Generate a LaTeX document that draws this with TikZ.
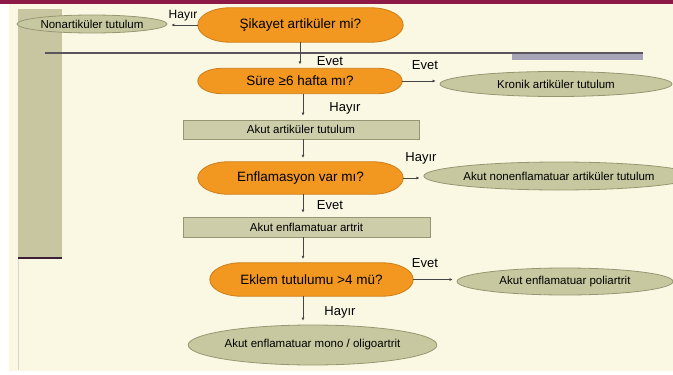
\documentclass[tikz,border=0pt]{standalone}
\usepackage{fontspec}
\setmainfont{Liberation Sans}
\usetikzlibrary{arrows.meta,shapes.geometric,calc}
\pgfdeclarelayer{bottom}
\pgfdeclarelayer{shapes}
\pgfsetlayers{bottom,shapes,main}
\definecolor{bgcream}{RGB}{250,248,226}
\definecolor{maroon}{RGB}{140,25,70}
\definecolor{tanbar}{RGB}{200,198,160}
\definecolor{orangefill}{RGB}{242,152,32}
\definecolor{orangeline}{RGB}{205,125,25}
\definecolor{olivefill}{RGB}{200,200,160}
\definecolor{oliveline}{RGB}{150,150,115}
\definecolor{boxfill}{RGB}{205,205,170}
\definecolor{lavender}{RGB}{168,164,184}
\definecolor{lineg}{RGB}{70,70,70}
\tikzset{
  decision/.style={rectangle, inner sep=0pt, font=\fontsize{13.5}{15}\selectfont},
  capsule/.style={draw=orangeline, fill=orangefill, line width=0.8pt},
  outcome/.style={ellipse, draw=oliveline, fill=olivefill, line width=0.8pt,
    inner sep=0pt, font=\fontsize{11.5}{13}\selectfont},
  stepbox/.style={rectangle, draw=oliveline, fill=boxfill, line width=0.8pt,
    inner sep=0pt, font=\fontsize{11.5}{13}\selectfont},
  lbl/.style={inner sep=0pt, font=\fontsize{13}{15}\selectfont},
  arr/.style={draw=lineg, line width=0.6pt, -{Latex[length=3pt,width=3pt]}, shorten >=4pt}
}
% #1 node name, #2 horizontal radius of the rounded ends (pt)
\newcommand\capsuleshape[2]{%
  \begin{pgfonlayer}{shapes}
  \path[capsule] let \p1=(#1.north west), \p2=(#1.south east), \n1={(\y1-\y2)/2} in
    (\x1+#2pt,\y1) -- (\x2-#2pt,\y1)
    arc[start angle=90, end angle=-90, x radius=#2pt, y radius=\n1]
    -- (\x1+#2pt,\y2)
    arc[start angle=270, end angle=90, x radius=#2pt, y radius=\n1] -- cycle;
  \end{pgfonlayer}}
\begin{document}
\begin{tikzpicture}[x=1pt,y=-1pt]
\useasboundingbox (0,0) rectangle (673,375);
\begin{pgfonlayer}{bottom}
\fill[white] (0,0) rectangle (673,375);
\fill[bgcream] (9,4) rectangle (673,371);
\fill[maroon] (0,0) rectangle (673,4);
% left bar
\fill[tanbar] (18,9) rectangle (62,258);
\draw[draw={rgb,255:red,60;green,30;blue,55}, line width=1.5pt] (18,258) -- (62,258);
\draw[draw={rgb,255:red,215;green,215;blue,210}, line width=0.5pt] (18,259) -- (18,370);
% top rule and grey block
\fill[lavender] (512,53) rectangle (643,60);
\draw[draw={rgb,255:red,90;green,85;blue,95}, line width=1.2pt] (45,53) -- (643,53);
\end{pgfonlayer}

% nodes
\node[decision, minimum width=205pt, minimum height=34pt] (sik) at (300.5,25) {Şikayet artiküler mi?};
\capsuleshape{sik}{32}
\node[outcome, minimum width=150pt, minimum height=18pt] (non) at (92,24) {Nonartiküler tutulum};
\node[decision, minimum width=204pt, minimum height=25pt] (sure) at (300,81) {Süre ≥6 hafta mı?};
\capsuleshape{sure}{24}
\node[outcome, minimum width=232pt, minimum height=25pt] (kron) at (556,84) {Kronik artiküler tutulum};
\node[stepbox, minimum width=236pt, minimum height=19pt] (box1) at (301,129.5) {Akut artiküler tutulum};
\node[decision, minimum width=205pt, minimum height=32pt] (enf) at (300.5,178) {Enflamasyon var mı?};
\capsuleshape{enf}{30}
\node[outcome, minimum width=228pt, minimum height=28pt] (nonenf) at (559,176) {Akut nonenflamatuar artiküler tutulum};
\node[stepbox, minimum width=247pt, minimum height=20pt] (box2) at (306.5,227) {Akut enflamatuar artrit};
\node[decision, minimum width=203pt, minimum height=33pt] (ekl) at (311.5,279.5) {Eklem tutulumu >4 mü?};
\capsuleshape{ekl}{31}
\node[outcome, minimum width=216pt, minimum height=27pt] (poli) at (565,281.5) {Akut enflamatuar poliartrit};
\node[outcome, minimum width=225pt, minimum height=40pt] (mono) at (312.5,345) {Akut enflamatuar mono / oligoartrit};

% connectors
\draw[arr] (sik.west) -- (sik.west -| non.east);
\draw[arr] (sik.south -| sure.north) -- (sure.north);
\draw[arr] (sure.east) -- (sure.east -| kron.west);
\draw[arr] ([xshift=3pt]sure.south) -- ([xshift=3pt]sure.south |- box1.north);
\draw[arr] ([xshift=2pt]box1.south) -- ([xshift=2pt]box1.south |- enf.north);
\draw[arr] (enf.east) -- (enf.east -| nonenf.west);
\draw[arr] ([xshift=2.5pt]enf.south) -- ([xshift=2.5pt]enf.south |- box2.north);
\draw[arr] ([xshift=-3.5pt]box2.south) -- ([xshift=-3.5pt]box2.south |- ekl.north);
\draw[arr] (ekl.east) -- (ekl.east -| poli.west);
\draw[arr] ([xshift=-8.5pt]ekl.south) -- ([xshift=-8.5pt]ekl.south |- mono.north);

% labels
\node[lbl, font=\fontsize{12}{14}\selectfont] (l1) at (183,16) {Hayır};
\node[lbl] (l2) at (330,61) {Evet};
\node[lbl] (l3) at (425,65) {Evet};
\node[lbl] (l4) at (345,108) {Hayır};
\node[lbl] (l5) at (421,158) {Hayır};
\node[lbl] (l6) at (330,205) {Evet};
\node[lbl] (l7) at (425,263) {Evet};
\node[lbl] (l8) at (340,312) {Hayır};
\end{tikzpicture}
\end{document}
